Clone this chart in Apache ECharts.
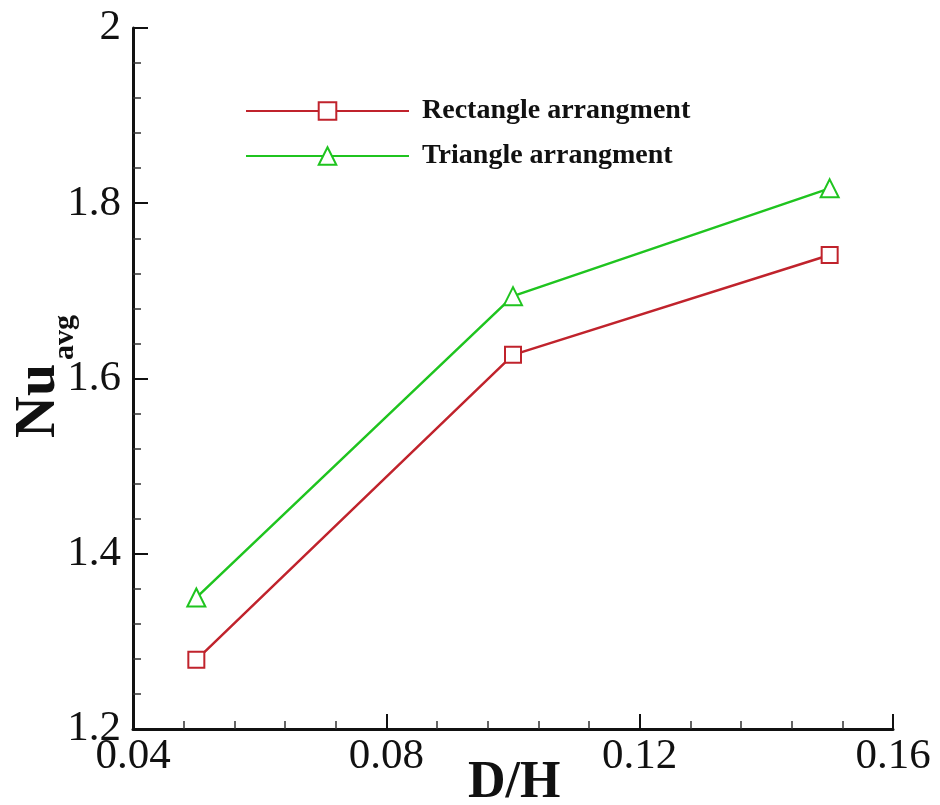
<!DOCTYPE html>
<html style="height: 100%">
    <head>
        <meta charset="utf-8">
    </head>
    <body style="height: 100%; margin: 0; background: #fff">
        <div id="container" style="width:940px;height:805px"></div>

        <script type="text/javascript" src="https://cdn.jsdelivr.net/npm/echarts@6/dist/echarts.min.js"></script>

        <script type="text/javascript">
// D/H values and average Nusselt number for the two arrangements
var ratioDH = [0.05, 0.10, 0.15];
var rectNu = [1.279, 1.627, 1.741];
var triNu = [1.350, 1.694, 1.817];
var xTicks = [0.04, 0.08, 0.12, 0.16];
var yTicks = [1.2, 1.4, 1.6, 1.8, 2];

var dom = document.getElementById("container");
var myChart = echarts.init(dom);
var serif = '"Liberation Serif", "Times New Roman", serif';

function pairs(xs, ys) {
    return xs.map(function (x, i) { return [x, ys[i]]; });
}

var option = {
    animation: false,
    backgroundColor: '#fff',
    grid: { left: 133, right: 47, top: 28, bottom: 76 },
    legend: {
        orient: 'vertical',
        left: 240,
        top: 92,
        itemWidth: 163,
        itemHeight: 22,
        itemGap: 17,
        textStyle: { fontFamily: serif, fontWeight: 'bold', fontSize: 28, color: '#111', padding: [0, 0, 0, 8] },
        data: ['Rectangle arrangment', 'Triangle arrangment']
    },
    xAxis: {
        type: 'value',
        min: xTicks[0],
        max: xTicks[xTicks.length - 1],
        interval: 0.04,
        axisLine: { lineStyle: { color: '#111', width: 3 } },
        axisTick: { inside: true, length: 15, lineStyle: { color: '#111', width: 2 } },
        minorTick: { show: true, splitNumber: 5, length: 8, lineStyle: { color: '#333', width: 1.5 } },
        splitLine: { show: false },
        axisLabel: {
            margin: 6,
            fontFamily: serif, fontSize: 43, color: '#111',
            formatter: function (v) { return xTicks.indexOf(+v.toFixed(2)) >= 0 ? v.toFixed(2) : ''; }
        }
    },
    yAxis: {
        type: 'value',
        min: yTicks[0],
        max: yTicks[yTicks.length - 1],
        interval: 0.2,
        axisLine: { show: true, lineStyle: { color: '#111', width: 3 } },
        axisTick: { show: true, inside: true, length: 15, lineStyle: { color: '#111', width: 2 } },
        minorTick: { show: true, splitNumber: 5, length: 8, lineStyle: { color: '#333', width: 1.5 } },
        splitLine: { show: false },
        axisLabel: {
            margin: 12,
            fontFamily: serif, fontSize: 43, color: '#111',
            formatter: function (v) { return +v.toFixed(1) === 2 ? '2' : v.toFixed(1); }
        }
    },
    graphic: [
        {
            type: 'text', left: 468, top: 758,
            style: { text: 'D/H', font: 'bold 52px ' + serif, fill: '#111' }
        },
        {
            type: 'text', x: 10, y: 438, rotation: Math.PI / 2,
            style: { text: 'Nu', font: 'bold 58px ' + serif, fill: '#111' }
        },
        {
            type: 'text', x: 50, y: 360, rotation: Math.PI / 2,
            style: { text: 'avg', font: 'bold 30px ' + serif, fill: '#111' }
        }
    ],
    series: [
        {
            name: 'Rectangle arrangment',
            type: 'line',
            data: pairs(ratioDH, rectNu),
            symbol: 'emptyRect',
            symbolSize: 16,
            itemStyle: { color: '#c0232c', borderWidth: 2.5 },
            lineStyle: { color: '#c0232c', width: 2.5 }
        },
        {
            name: 'Triangle arrangment',
            type: 'line',
            data: pairs(ratioDH, triNu),
            symbol: 'emptyTriangle',
            symbolSize: 18,
            itemStyle: { color: '#1fc41f', borderWidth: 2.5 },
            lineStyle: { color: '#1fc41f', width: 2.5 }
        }
    ]
};

myChart.setOption(option);
        </script>
    </body>
</html>
